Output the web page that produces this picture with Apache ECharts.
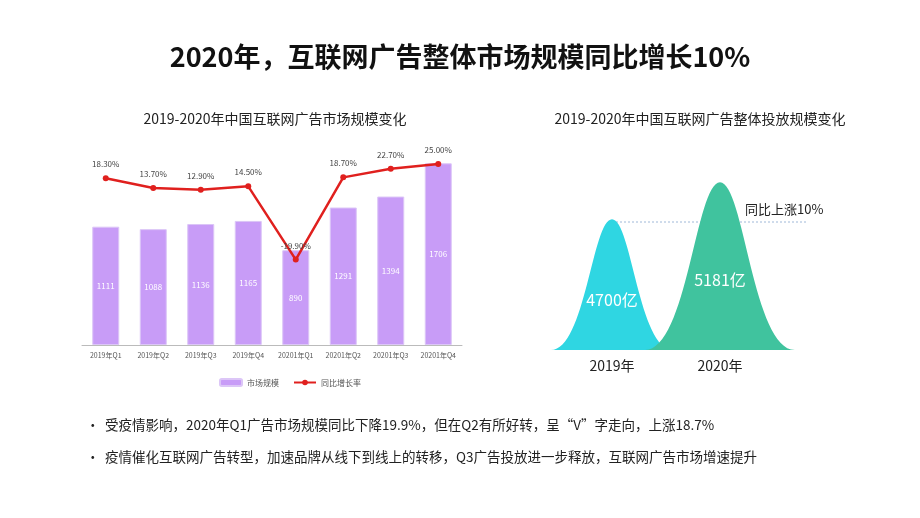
<!DOCTYPE html>
<html><head><meta charset="utf-8">
<script src="https://cdn.jsdelivr.net/npm/echarts@6/dist/echarts.min.js"></script>
<style>body{margin:0;background:#fff}#main{width:920px;height:518px}</style>
</head><body><div id="main"></div>
<script>
// 左图数据
var quarters = ['2019年Q1','2019年Q2','2019年Q3','2019年Q4','20201年Q1','20201年Q2','20201年Q3','20201年Q4'];
var marketSize = [1111, 1088, 1136, 1165, 890, 1291, 1394, 1706];
var growthRate = [18.3, 13.7, 12.9, 14.5, -19.9, 18.7, 22.7, 25.0];
// 右图数据
var years = ['2019年', '2020年'];
var totalSpend = [4700, 5181];

var font = '"Noto Sans CJK SC", "Noto Sans", sans-serif';
var bellColors = ['#2fd6e2', '#40c39e'];
var bellWidths = [122, 150];
var rightMin = 3000;

// 钟形山峰
function renderBell(params, api) {
    var i = api.value(0);
    var top = api.coord([i, api.value(1)]);
    var base = api.coord([i, rightMin]);
    var w = bellWidths[i], h = base[1] - top[1];
    var x0 = top[0] - w / 2, y0 = base[1];
    var k = w / 100;
    var path = 'M' + x0 + ',' + y0 +
        ' C' + (x0 + 28 * k) + ',' + y0 + ' ' + (x0 + 34 * k) + ',' + top[1] + ' ' + top[0] + ',' + top[1] +
        ' C' + (x0 + 66 * k) + ',' + top[1] + ' ' + (x0 + 72 * k) + ',' + y0 + ' ' + (x0 + w) + ',' + y0 + ' Z';
    return {
        type: 'group', z2: i,
        children: [
            {type: 'path', shape: {pathData: path}, style: {fill: bellColors[i]}},
            {type: 'text', style: {text: api.value(1) + '亿', x: top[0], y: top[1] + h * (i === 0 ? 0.62 : 0.58),
                fill: '#fff', font: '16px ' + font, align: 'center', verticalAlign: 'middle'}}
        ]
    };
}

var myChart = echarts.init(document.getElementById('main'));
var option = {
    textStyle: {fontFamily: font},
    title: [
        {text: '2020年，互联网广告整体市场规模同比增长10%', left: 'center', top: 38,
         textStyle: {fontSize: 27, fontWeight: 'bold', color: '#111', fontFamily: font}},
        {text: '2019-2020年中国互联网广告市场规模变化', left: 270, top: 107, textAlign: 'center',
         textStyle: {fontSize: 14, fontWeight: 'normal', color: '#222', fontFamily: font}},
        {text: '2019-2020年中国互联网广告整体投放规模变化', left: 695, top: 107, textAlign: 'center',
         textStyle: {fontSize: 14, fontWeight: 'normal', color: '#222', fontFamily: font}}
    ],
    legend: {
        left: 214, top: 373, itemWidth: 22, itemHeight: 7, itemGap: 14,
        textStyle: {fontSize: 8, color: '#555'},
        data: ['市场规模', '同比增长率']
    },
    grid: [
        {left: 82, top: 132, width: 380, height: 213},
        {left: 558, top: 140, width: 216, height: 210}
    ],
    xAxis: [
        {type: 'category', data: quarters, gridIndex: 0,
         axisLine: {lineStyle: {color: '#bbb'}}, axisTick: {show: false},
         axisLabel: {fontSize: 7, color: '#555', margin: 7, interval: 0}},
        {type: 'category', data: years, gridIndex: 1,
         axisLine: {show: false}, axisTick: {show: false},
         axisLabel: {fontSize: 14, color: '#222', margin: 9}}
    ],
    yAxis: [
        {type: 'value', gridIndex: 0, min: 0, max: 2000, show: false},
        {type: 'value', gridIndex: 0, min: -60, max: 40, show: false},
        {type: 'value', gridIndex: 1, min: rightMin, max: 5730, show: false}
    ],
    series: [
        {name: '市场规模', type: 'bar', xAxisIndex: 0, yAxisIndex: 0, data: marketSize,
         barWidth: 27,
         itemStyle: {color: '#c89cf7', borderColor: '#dcc6f7', borderWidth: 1},
         label: {show: true, position: 'inside', color: '#fff', fontSize: 8}},
        {name: '同比增长率', type: 'line', xAxisIndex: 0, yAxisIndex: 1, data: growthRate,
         symbol: 'circle', symbolSize: 6,
         lineStyle: {color: '#e0201e', width: 2.5}, itemStyle: {color: '#e0201e'},
         label: {show: true, position: 'top', distance: 7, fontSize: 8, color: '#444',
                 formatter: function (p) { return p.value.toFixed(2) + '%'; }}},
        {name: '投放规模', type: 'custom', xAxisIndex: 1, yAxisIndex: 2,
         renderItem: renderBell,
         data: totalSpend.map(function (v, i) { return [i, v]; })}
    ],
    graphic: [
        {type: 'line', shape: {x1: 612, y1: 222, x2: 806, y2: 222}, z: -1,
         style: {stroke: '#9fb8d8', lineDash: [2, 2], lineWidth: 1}},
        {type: 'text', left: 745, top: 203,
         style: {text: '同比上涨10%', font: '13px ' + font, fill: '#222'}},
        {type: 'text', left: 86, top: 418,
         style: {text: '•', font: '13.5px ' + font, fill: '#222'}},
        {type: 'text', left: 105, top: 418,
         style: {text: '受疫情影响，2020年Q1广告市场规模同比下降19.9%，但在Q2有所好转，呈“V”字走向，上涨18.7%',
                 font: '13.5px ' + font, fill: '#222'}},
        {type: 'text', left: 86, top: 450,
         style: {text: '•', font: '13.5px ' + font, fill: '#222'}},
        {type: 'text', left: 105, top: 450,
         style: {text: '疫情催化互联网广告转型，加速品牌从线下到线上的转移，Q3广告投放进一步释放，互联网广告市场增速提升',
                 font: '13.5px ' + font, fill: '#222'}}
    ]
};
option && myChart.setOption(option);
</script>
</body></html>
